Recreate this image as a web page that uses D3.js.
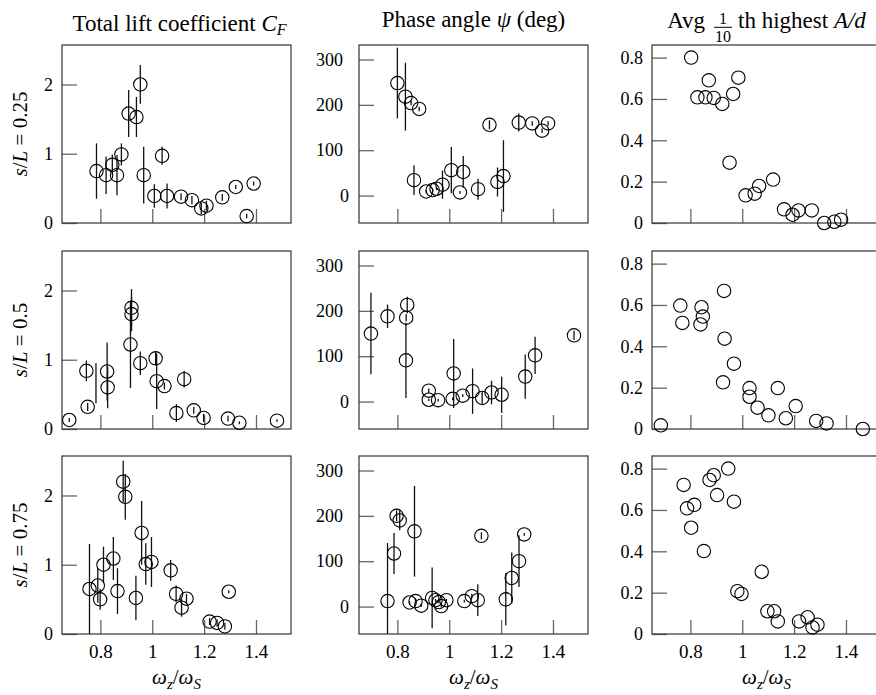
<!DOCTYPE html>
<html>
<head>
<meta charset="utf-8">
<script src="https://cdn.jsdelivr.net/npm/d3@7"></script>
<style>
  body { margin: 0; background: #fff; }
  text { font-family: "Liberation Serif", "DejaVu Serif", serif; fill: #000; }
</style>
</head>
<body>
<div id="chart"></div>
<script>
// Shared axis values
const xTicks = [0.8, 1, 1.2, 1.4];
const rowLabels = ["0.25", "0.5", "0.75"];
const cfTicks = [0, 1, 2];
const psiTicks = [0, 100, 200, 300];
const ampTicks = [0, 0.2, 0.4, 0.6, 0.8];

// s/L = 0.25
const cf25x = [0.785,0.822,0.846,0.864,0.881,0.909,0.939,0.954,0.967,1.008,1.038,1.057,1.111,1.153,1.189,1.209,1.270,1.322,1.364,1.391];
const cf25y = [0.75,0.69,0.84,0.69,0.99,1.58,1.53,2.00,0.69,0.39,0.97,0.39,0.38,0.33,0.21,0.25,0.37,0.52,0.10,0.57];
const cf25e = [0.40,0.27,0.15,0.29,0.16,0.34,0.29,0.28,0.41,0.17,0.13,0.18,0.05,0.06,0.08,0.07,0.05,0.03,0.03,0.03];
const psi25x = [0.800,0.831,0.853,0.884,0.864,0.911,0.936,0.951,0.974,1.008,1.041,1.054,1.111,1.155,1.186,1.209,1.268,1.320,1.358,1.381];
const psi25y = [248,218,204,191,34,9,12,15,24,56,7,52,14,156,30,43,161,159,143,159];
const psi25e = [78,75,5,5,33,3,3,3,31,51,3,35,23,10,32,79,20,5,5,5];
const amp25x = [0.803,0.827,0.858,0.871,0.890,0.923,0.951,0.965,0.985,1.013,1.048,1.065,1.119,1.161,1.194,1.217,1.268,1.316,1.355,1.381];
const amp25y = [0.800,0.608,0.608,0.690,0.605,0.576,0.292,0.624,0.703,0.134,0.142,0.179,0.210,0.066,0.040,0.061,0.061,0.000,0.006,0.016];

// s/L = 0.5
const cf50x = [0.680,0.746,0.751,0.783,0.826,0.828,0.920,0.920,0.916,0.954,1.013,1.017,1.047,1.093,1.123,1.160,1.198,1.292,1.336,1.481];
const cf50y = [0.13,0.84,0.32,0.66,0.83,0.60,1.75,1.66,1.22,0.95,1.02,0.69,0.62,0.23,0.72,0.27,0.16,0.15,0.09,0.12];
const cf50e = [0.03,0.15,0.06,0.29,0.42,0.30,0.27,0.25,0.63,0.17,0.10,0.40,0.05,0.13,0.12,0.05,0.06,0.04,0.02,0.02];
const cf50NoMarker = [3];
const psi50x = [0.698,0.762,0.838,0.834,0.833,0.921,0.921,0.957,1.017,1.013,1.052,1.090,1.127,1.163,1.202,1.293,1.331,1.481];
const psi50y = [150,188,213,185,91,24,4,3,62,6,13,23,8,20,15,55,102,146];
const psi50e = [90,26,18,8,83,5,3,3,76,3,3,50,13,26,40,49,41,10];
const amp50x = [0.686,0.761,0.769,0.843,0.848,0.839,0.930,0.932,0.926,0.968,1.028,1.028,1.059,1.101,1.137,1.168,1.206,1.285,1.325,1.465];
const amp50y = [0.018,0.597,0.513,0.589,0.544,0.506,0.668,0.437,0.226,0.316,0.198,0.156,0.103,0.066,0.198,0.052,0.111,0.039,0.027,0.000];

// s/L = 0.75
const cf75x = [0.758,0.790,0.799,0.812,0.850,0.866,0.888,0.896,0.937,0.959,0.975,0.997,1.071,1.092,1.113,1.132,1.221,1.250,1.280,1.295];
const cf75y = [0.65,0.70,0.50,1.00,1.09,0.62,2.20,1.98,0.52,1.46,1.01,1.04,0.92,0.58,0.38,0.51,0.18,0.16,0.11,0.61];
const cf75e = [0.65,0.25,0.15,0.26,0.31,0.33,0.30,0.33,0.32,0.46,0.30,0.36,0.15,0.12,0.13,0.07,0.05,0.05,0.05,0.02];
const psi75x = [0.762,0.787,0.797,0.809,0.866,0.847,0.870,0.892,0.934,0.947,0.960,0.969,0.989,1.058,1.087,1.110,1.124,1.218,1.241,1.269,1.289];
const psi75y = [12,117,200,190,166,9,12,2,19,14,10,1,14,12,23,14,156,16,63,100,159];
const psi75e = [128,45,12,22,100,3,6,3,67,3,3,3,3,3,5,35,8,58,56,57,3];
const amp75x = [0.774,0.787,0.815,0.803,0.852,0.874,0.890,0.903,0.946,0.968,0.981,0.997,1.075,1.097,1.123,1.137,1.219,1.252,1.271,1.290];
const amp75y = [0.721,0.608,0.625,0.514,0.401,0.745,0.768,0.672,0.800,0.640,0.207,0.194,0.301,0.110,0.110,0.061,0.061,0.081,0.032,0.045];

const panels = [
  [{x: cf25x, y: cf25y, e: cf25e}, {x: psi25x, y: psi25y, e: psi25e}, {x: amp25x, y: amp25y}],
  [{x: cf50x, y: cf50y, e: cf50e, hide: cf50NoMarker}, {x: psi50x, y: psi50y, e: psi50e}, {x: amp50x, y: amp50y}],
  [{x: cf75x, y: cf75y, e: cf75e}, {x: psi75x, y: psi75y, e: psi75e}, {x: amp75x, y: amp75y}]
];

// Layout
const colLeft = [62, 359, 652], rowTop = [45, 251, 456];
const panelW = 229, panelH = 178;
const xDomain = [0.652, 1.535];
const yDomains = [[0, 2.57], [-60.5, 332], [0, 0.861]];
const yTickVals = [cfTicks, psiTicks, ampTicks];
const yPad = [9, 16, 9];
const serif = "'Liberation Serif', serif";

const svg = d3.select("#chart")
  .append("svg")
    .attr("width", 876)
    .attr("height", 695);

svg.append("rect").attr("width", 876).attr("height", 695).attr("fill", "#fff");

const defs = svg.append("defs");

panels.forEach((row, r) => {
  row.forEach((p, c) => {
    const g = svg.append("g")
      .attr("transform", `translate(${colLeft[c]},${rowTop[r]})`);

    const x = d3.scaleLinear().domain(xDomain).range([0, panelW]);
    const y = d3.scaleLinear().domain(yDomains[c]).range([panelH, 0]);

    const clipId = `clip-${r}-${c}`;
    defs.append("clipPath").attr("id", clipId)
      .append("rect").attr("width", panelW).attr("height", panelH);

    // Y axis, ticks pointing inward
    const yAxis = g.append("g")
      .call(d3.axisLeft(y).tickValues(yTickVals[c]).tickSize(-15).tickSizeOuter(0)
        .tickPadding(yPad[c]).tickFormat(d3.format("")));
    yAxis.select(".domain").remove();
    yAxis.selectAll(".tick line").attr("stroke", "#666").attr("stroke-width", 1.3);
    yAxis.selectAll(".tick text")
      .style("font-family", serif).attr("font-size", 18).attr("fill", "#000")
      .attr("dx", d => (c === 1 && d === 0) ? 6 : 0);

    // X axis, ticks pointing up from the bottom edge
    const xAxis = g.append("g")
      .attr("transform", `translate(0,${panelH})`)
      .call(d3.axisBottom(x).tickValues(xTicks).tickSize(-14).tickSizeOuter(0)
        .tickPadding(11).tickFormat(r === 2 ? d3.format("") : () => ""));
    xAxis.select(".domain").remove();
    xAxis.selectAll(".tick line").attr("stroke", "#666").attr("stroke-width", 1.3);
    xAxis.selectAll(".tick text")
      .style("font-family", serif).attr("font-size", 19).attr("fill", "#000");

    // Frame
    g.append("rect")
      .attr("width", panelW).attr("height", panelH)
      .attr("fill", "none").attr("stroke", "#333").attr("stroke-width", 1.2);

    const data = p.x.map((v, i) => ({x: v, y: p.y[i], e: p.e ? p.e[i] : 0, i: i}));

    // Error bars
    g.append("g").attr("clip-path", `url(#${clipId})`)
      .selectAll("line")
      .data(data.filter(d => d.e > 0))
      .join("line")
        .attr("x1", d => x(d.x)).attr("x2", d => x(d.x))
        .attr("y1", d => y(d.y - d.e)).attr("y2", d => y(d.y + d.e))
        .attr("stroke", "#111").attr("stroke-width", 1.3);

    // Open circles
    const hide = p.hide || [];
    g.append("g")
      .selectAll("circle")
      .data(data.filter(d => !hide.includes(d.i)))
      .join("circle")
        .attr("cx", d => x(d.x))
        .attr("cy", d => y(d.y))
        .attr("r", 6.7)
        .attr("fill", "none")
        .attr("stroke", "#000")
        .attr("stroke-width", 1.1);

    // x label on bottom row
    if (r === 2) {
      const t = g.append("text")
        .attr("x", panelW / 2).attr("y", 684 - rowTop[2])
        .attr("text-anchor", "middle").attr("font-size", 21);
      t.append("tspan").attr("font-style", "italic").text("ω");
      t.append("tspan").attr("font-style", "italic").attr("font-size", 15).attr("dy", 5).text("z");
      t.append("tspan").attr("dy", -5).text("/");
      t.append("tspan").attr("font-style", "italic").text("ω");
      t.append("tspan").attr("font-style", "italic").attr("font-size", 15).attr("dy", 5).text("S");
    }
  });

  // Row label
  const cy = rowTop[r] + panelH / 2;
  const rl = svg.append("text")
    .attr("transform", `translate(27,${cy}) rotate(-90)`)
    .attr("text-anchor", "middle").attr("font-size", 21);
  rl.append("tspan").attr("font-style", "italic").text("s");
  rl.append("tspan").text("/");
  rl.append("tspan").attr("font-style", "italic").text("L");
  rl.append("tspan").text(" = " + rowLabels[r]);
});

// Column titles
const t1 = svg.append("text")
  .attr("x", colLeft[0] + panelW / 2 + 3).attr("y", 31)
  .attr("text-anchor", "middle").attr("font-size", 23);
t1.append("tspan").text("Total lift coefficient ");
t1.append("tspan").attr("font-style", "italic").text("C");
t1.append("tspan").attr("font-style", "italic").attr("font-size", 16).attr("dy", 4).text("F");

const t2 = svg.append("text")
  .attr("x", colLeft[1] + panelW / 2).attr("y", 27)
  .attr("text-anchor", "middle").attr("font-size", 23);
t2.append("tspan").text("Phase angle ");
t2.append("tspan").attr("font-style", "italic").text("ψ");
t2.append("tspan").text(" (deg)");

// Third title with a stacked fraction
const t3 = svg.append("g");
const avg = t3.append("text").attr("x", 0).attr("y", 28).attr("font-size", 23).text("Avg");
const wAvg = avg.node().getComputedTextLength();
const fx = wAvg + 9;
const num = t3.append("text").attr("y", 24).attr("font-size", 16).attr("text-anchor", "middle").text("1");
const den = t3.append("text").attr("y", 41.5).attr("font-size", 16).attr("text-anchor", "middle").text("10");
const fw = den.node().getComputedTextLength();
num.attr("x", fx + fw / 2 + 1);
den.attr("x", fx + fw / 2 + 1);
t3.append("line").attr("x1", fx).attr("x2", fx + fw + 2).attr("y1", 27.3).attr("y2", 27.3)
  .attr("stroke", "#000").attr("stroke-width", 1);
const rest = t3.append("text").attr("x", fx + fw + 8).attr("y", 28).attr("font-size", 23);
rest.append("tspan").text("th highest ");
rest.append("tspan").attr("font-style", "italic").text("A/d");
const wTot = fx + fw + 8 + rest.node().getComputedTextLength();
t3.attr("transform", `translate(${colLeft[2] + panelW / 2 - wTot / 2},0)`);
</script>
</body>
</html>
